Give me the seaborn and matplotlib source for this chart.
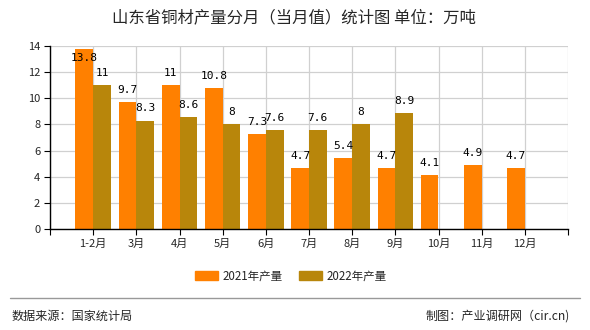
import matplotlib
matplotlib.use("Agg")
import matplotlib.pyplot as plt
import seaborn as sns
import pandas as pd
import numpy as np
from matplotlib.patches import Rectangle
from matplotlib.lines import Line2D

months = ["1-2月", "3月", "4月", "5月", "6月", "7月", "8月", "9月", "10月", "11月", "12月"]
v2021 = [13.8, 9.7, 11, 10.8, 7.3, 4.7, 5.4, 4.7, 4.1, 4.9, 4.7]
v2022 = [11, 8.3, 8.6, 8, 7.6, 7.6, 8, 8.9, None, None, None]
series = ["2021年产量", "2022年产量"]
colors = ["#FF8000", "#B8860B"]
title = "山东省铜材产量分月（当月值）统计图 单位：万吨"

sns.set_theme(style="white")
plt.rcParams['font.family'] = ['Noto Sans CJK SC', 'DejaVu Sans']

rows = []
for m, a, b in zip(months, v2021, v2022):
    rows.append({"月": m, "系列": series[0], "值": a})
    rows.append({"月": m, "系列": series[1], "值": b if b is not None else np.nan})
df = pd.DataFrame(rows)

fig = plt.figure(figsize=(5.9, 3.3), dpi=100)
ax = fig.add_axes([50/590, 1-229/330, 518/590, 183/330])

sns.barplot(data=df, x="月", y="值", hue="系列", palette=colors, width=0.82,
            dodge=True, ax=ax, legend=False, saturation=1, errorbar=None,
            linewidth=0, edgecolor="none")

ax.set_xlim(-1, 11)
ax.set_ylim(0, 14)
ax.set_yticks(range(0, 15, 2))
ax.set_xticks(range(-1, 12))
ax.set_xticklabels([""] + months + [""])
ax.set_xlabel("")
ax.set_ylabel("")
ax.grid(True, color="#d0d0d0", linewidth=0.9)
ax.set_axisbelow(True)
for s in ["top", "right"]:
    ax.spines[s].set_visible(False)
for s in ["left", "bottom"]:
    ax.spines[s].set_color("black")
    ax.spines[s].set_linewidth(1.0)
ax.tick_params(axis="both", which="both", length=4, width=0.8, color="black",
               labelsize=8, pad=3, bottom=True, left=True, direction="out")

off = 0.92
for i, (a, b) in enumerate(zip(v2021, v2022)):
    for j, v in enumerate([a, b]):
        if v is None:
            continue
        x = i + (-0.205 if j == 0 else 0.205)
        y = min(v + off, 13.1)
        ax.text(x, y, f"{v:g}", ha="center", va="center", fontsize=8,
                family=["DejaVu Sans Mono"], color="black")

handles = [Rectangle((0, 0), 1, 1, color=c) for c in colors]
fig.legend(handles, series, loc="center", bbox_to_anchor=(291/590, 1-276/330),
           ncol=2, frameon=False, fontsize=8.3, handlelength=2.0, handleheight=0.8,
           columnspacing=1.4, handletextpad=0.4)

fig.text(294/590, 1-18/330, title, ha="center", va="center", fontsize=11.8)
fig.add_artist(Line2D([10/590, 580/590], [1-298/330, 1-298/330], color="#999999", linewidth=1))
fig.text(12/590, 1-316/330, "数据来源：国家统计局", ha="left", va="center", fontsize=8.7)
fig.text(570/590, 1-316/330, "制图：产业调研网（cir.cn)", ha="right", va="center", fontsize=8.7)

fig.savefig("out.png", dpi=100)
